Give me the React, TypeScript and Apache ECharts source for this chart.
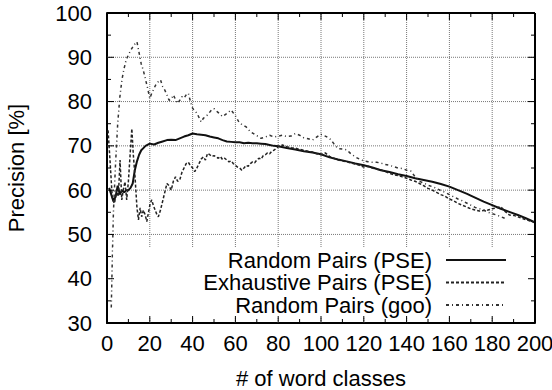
import React, { useEffect, useRef } from "react";
import * as echarts from "echarts";

// x positions (number of word classes) and precision values (%) per series
const pseRandomX = [1, 2, 3, 4, 5, 6, 7, 8, 9, 10, 11, 12, 13, 14, 15, 16, 17, 18, 20, 22, 24, 26, 28, 30, 32, 34, 36, 38, 40, 42, 44, 46, 48, 50, 52, 54, 56, 58, 60, 62, 64, 66, 68, 70, 72, 74, 76, 78, 80, 84, 88, 92, 96, 100, 104, 108, 112, 116, 120, 124, 128, 132, 136, 140, 144, 148, 152, 156, 160, 164, 168, 172, 176, 180, 184, 188, 192, 196, 200];
const pseRandomY = [60.5, 59, 57.5, 58.5, 61, 59, 60, 59.5, 60, 60, 60.5, 61.5, 64.5, 66.5, 68, 69, 69.5, 70, 70.5, 70.3, 70.7, 71, 71.3, 71.4, 71.3, 71.7, 72.1, 72.4, 72.8, 72.6, 72.5, 72.4, 72.1, 71.9, 71.7, 71.3, 71, 70.9, 70.8, 70.8, 70.6, 70.7, 70.6, 70.6, 70.5, 70.4, 70.2, 70, 69.9, 69.5, 69.2, 68.8, 68.5, 68.1, 67.4, 66.9, 66.5, 66, 65.6, 65.1, 64.5, 64.1, 63.6, 63.2, 62.7, 62.3, 61.9, 61.4, 60.8, 60, 59.2, 58.3, 57.4, 56.6, 55.8, 55.1, 54.4, 53.6, 52.7];

const exhaustiveX = [0.5, 1.5, 2.5, 3.5, 4.5, 5.3, 6.1, 6.9, 7.6, 8.4, 9.2, 10, 10.8, 11.6, 12.3, 13.1, 14, 14.7, 15.5, 16.2, 17, 17.8, 18.6, 19.4, 20.2, 20.9, 21.7, 22.5, 23.3, 24, 25, 26, 27, 28, 29, 30, 31, 32, 33, 34, 35, 36, 37, 38, 39, 40, 41, 42, 43, 44, 45, 46, 47, 48, 49, 50, 51, 52, 53, 54, 55, 56, 57, 58, 59, 60, 61, 62, 63, 64, 65, 66, 67, 68, 69, 70, 71, 72, 73, 74, 75, 76, 77, 78, 79, 80, 82, 84, 86, 88, 90, 92, 94, 96, 98, 100, 102, 104, 106, 108, 110, 112, 114, 116, 118, 120, 122, 124, 126, 128, 130, 132, 134, 136, 138, 140, 142, 144, 146, 148, 150, 152, 154, 156, 158, 160, 162, 164, 166, 168, 170, 172, 174, 176, 178, 180, 182, 184, 186, 188, 190, 192, 194, 196, 198, 200];
const exhaustiveY = [73.5, 66, 58, 57, 60, 58.5, 66.8, 57.8, 60, 61.9, 57.8, 62, 68, 73.9, 68, 63, 56, 53.3, 56, 54, 55.5, 54.5, 52.9, 55, 57, 57.8, 56.5, 55.5, 54.5, 54, 55.5, 57.5, 59.5, 61.5, 61, 60, 62, 63, 62, 62.3, 64, 65, 66, 66.3, 65.5, 65, 64.2, 65, 66, 67, 67.5, 66.8, 68.3, 68, 67.6, 67.8, 67.5, 67.2, 67.6, 66.9, 67.2, 66.8, 66.4, 66.6, 66, 65.6, 65.2, 65, 64.5, 65, 65.6, 65.4, 66, 66.4, 66.2, 66.8, 67.2, 67, 67.8, 68, 68.4, 68.2, 68.8, 69, 69.4, 69.8, 70.2, 69.8, 69.6, 69.5, 69.2, 69, 68.8, 68.6, 68.2, 68, 68.4, 67.6, 67.2, 66.8, 66.6, 66.4, 66.1, 65.9, 65.6, 65.2, 65.4, 65, 64.7, 64.6, 64.2, 63.8, 63.5, 63.3, 63, 62.7, 62.3, 62, 61.5, 61, 60.4, 60, 59.5, 59, 58.6, 58, 57.6, 57, 56.6, 56.2, 55.8, 55.5, 55.3, 55.4, 55.5, 55.8, 56, 56.3, 55.2, 54.4, 54.3, 54, 53.6, 53.3, 53, 52.8];

const gooRandomX = [2, 2.5, 3, 4, 5, 6, 7, 8, 9, 10, 11, 12, 13, 14, 15, 16, 17, 18, 19, 20, 21, 22, 23, 24, 25, 26, 27, 28, 29, 30, 31, 32, 33, 34, 35, 36, 37, 38, 39, 40, 42, 44, 45, 47, 49, 50, 52, 54, 56, 58, 60, 61.5, 63, 65, 67, 69, 72, 74, 76, 78, 80, 82, 84, 86, 88, 90, 92, 94, 96, 98, 100, 102, 104, 106, 108, 110, 112, 114, 116, 118, 120, 122, 124, 126, 128, 130, 132, 134, 136, 138, 140, 142, 144, 146, 148, 150, 152, 154, 156, 158, 160, 162, 164, 166, 168, 170, 172, 174, 176, 178, 180, 182, 184, 186];
const gooRandomY = [33.5, 45, 55, 66, 75, 81, 85, 87.5, 89.5, 90.5, 91.5, 92.3, 93, 93.5, 91, 88.5, 87, 85, 83, 80.7, 82, 83, 84, 84.5, 84.9, 83.4, 82.6, 81.5, 80.3, 80.5, 81.5, 80.5, 79.6, 80.3, 81.1, 80.8, 81.5, 81.9, 80, 78.5, 77.4, 75.4, 76.2, 77, 78.2, 78.4, 77.5, 76.6, 77.3, 78.1, 76.8, 75.5, 74.8, 74.3, 73.2, 72.6, 71.7, 72, 72.4, 72, 72.2, 72.4, 72.1, 72.2, 72.8, 72.4, 71.8, 71.6, 71.3, 72, 72.6, 72.2, 71.7, 70.5, 69.4, 69.3, 69.1, 68.2, 67.5, 67, 66.6, 66.4, 66.3, 66.3, 66.1, 65.8, 65.6, 65.3, 65, 64.9, 64.5, 64.3, 63, 62, 61.6, 61.1, 60.8, 60.4, 59.9, 59.5, 59, 58.5, 58, 57.6, 57.1, 56.6, 56.1, 55.8, 55.5, 55, 54.7, 54.4, 54, 53.6];

const seriesNames = ["Random Pairs (PSE)", "Exhaustive Pairs (PSE)", "Random Pairs (goo)"];

// axis ranges and tick steps
const X_MIN = 0;
const X_MAX = 200;
const X_STEP = 20;
const Y_MIN = 30;
const Y_MAX = 100;
const Y_STEP = 10;

const FONT = "Liberation Sans";
const FS = 22;

// the canvas is a little larger than the visible frame so the last tick label can run past the edge
const CANVAS_W = 575;
const CANVAS_H = 400;
const GRID = { left: 107, right: 40, top: 13, bottom: 77 };
const PX_PER_X = (CANVAS_W - GRID.left - GRID.right) / (X_MAX - X_MIN);
const PX_PER_Y = (CANVAS_H - GRID.top - GRID.bottom) / (Y_MAX - Y_MIN);

const GAP: (string | number)[] = ["-", "-"];

const zip = (xs: number[], ys: number[]) => xs.map((x, i) => [x, ys[i]]);
const range = (a: number, b: number, s: number) => {
  const out: number[] = [];
  for (let v = a; v <= b + 1e-9; v += s) out.push(v);
  return out;
};

// joins separate two-point segments into one broken polyline
const segments = (segs: number[][][]) => {
  const out: (string | number)[][] = [];
  segs.forEach(([a, b]) => {
    out.push(a, b, GAP);
  });
  return out;
};

// dotted grid at the inner major ticks
const gridSegments = () =>
  segments([
    ...range(X_MIN + X_STEP, X_MAX - X_STEP, X_STEP).map((x) => [[x, Y_MIN], [x, Y_MAX]]),
    ...range(Y_MIN + Y_STEP, Y_MAX - Y_STEP, Y_STEP).map((y) => [[X_MIN, y], [X_MAX, y]]),
  ]);

// inward ticks on all four sides
const tickSegments = () => {
  const major = 7;
  const minor = 4;
  const segs: number[][][] = [];
  const xTick = (x: number, len: number) => {
    const dy = len / PX_PER_Y;
    segs.push([[x, Y_MIN], [x, Y_MIN + dy]]);
    segs.push([[x, Y_MAX], [x, Y_MAX - dy]]);
  };
  const yTick = (y: number, len: number) => {
    const dx = len / PX_PER_X;
    segs.push([[X_MIN, y], [X_MIN + dx, y]]);
    segs.push([[X_MAX, y], [X_MAX - dx, y]]);
  };
  range(X_MIN + X_STEP, X_MAX - X_STEP, X_STEP).forEach((x) => xTick(x, major));
  range(X_MIN + X_STEP / 2, X_MAX - X_STEP / 2, X_STEP).forEach((x) => xTick(x, minor));
  range(Y_MIN + Y_STEP, Y_MAX - Y_STEP, Y_STEP).forEach((y) => yTick(y, major));
  range(Y_MIN + Y_STEP / 2, Y_MAX - Y_STEP / 2, Y_STEP).forEach((y) => yTick(y, minor));
  return segments(segs);
};

// top and right edges of the frame
const frameSegments = () =>
  segments([
    [[X_MIN, Y_MAX], [X_MAX, Y_MAX]],
    [[X_MAX, Y_MIN], [X_MAX, Y_MAX]],
  ]);

const text = () => ({ fontSize: FS, color: "#000", fontFamily: FONT });

const helper = (data: (string | number)[][], lineStyle: any, z: number) => ({
  type: "line",
  data,
  z,
  clip: false,
  silent: true,
  showSymbol: false,
  symbol: "none",
  connectNulls: false,
  legendHoverLink: false,
  emphasis: { disabled: true },
  lineStyle,
  itemStyle: { color: lineStyle.color },
});

export default function App() {
  const ref = useRef<HTMLDivElement>(null);

  useEffect(() => {
    document.body.style.margin = "0";
    if (!ref.current) return;
    const chart = echarts.init(ref.current, undefined, { renderer: "svg" });

    chart.setOption({
      animation: false,
      grid: { ...GRID, outerBoundsMode: "none", show: false },
      xAxis: {
        type: "value",
        min: X_MIN,
        max: X_MAX,
        interval: X_STEP,
        name: "# of word classes",
        nameLocation: "middle",
        nameGap: 44,
        nameTextStyle: text(),
        axisLine: { show: true, onZero: false, lineStyle: { color: "#000", width: 2 } },
        axisTick: { show: false },
        axisLabel: { ...text(), margin: 9 },
        splitLine: { show: false },
      },
      yAxis: {
        type: "value",
        min: Y_MIN,
        max: Y_MAX,
        interval: Y_STEP,
        name: "Precision [%]",
        nameLocation: "middle",
        nameGap: 80,
        nameTextStyle: text(),
        axisLine: { show: true, onZero: false, lineStyle: { color: "#000", width: 2 } },
        axisTick: { show: false },
        axisLabel: { ...text(), margin: 15 },
        splitLine: { show: false },
      },
      legend: {
        orient: "vertical",
        align: "right",
        right: 41,
        bottom: 82,
        backgroundColor: "#fff",
        padding: [2, 27, 2, 90],
        itemWidth: 60,
        itemHeight: 12,
        itemGap: 0.5,
        selectedMode: false,
        itemStyle: { opacity: 0 },
        textStyle: { fontSize: FS, color: "#000", fontFamily: FONT, lineHeight: 21, padding: [0, 9, 0, 0] },
        data: seriesNames,
      },
      series: [
        helper(gridSegments(), { color: "#777", width: 1, type: "dotted" }, 1),
        {
          name: seriesNames[0],
          type: "line",
          data: zip(pseRandomX, pseRandomY),
          showSymbol: false,
          symbol: "none",
          lineStyle: { color: "#111", width: 2, type: "solid" },
          itemStyle: { color: "#111" },
          z: 3,
        },
        {
          name: seriesNames[1],
          type: "line",
          data: zip(exhaustiveX, exhaustiveY),
          showSymbol: false,
          symbol: "none",
          lineStyle: { color: "#222", width: 1.5, type: [3, 2] },
          itemStyle: { color: "#222" },
        },
        {
          name: seriesNames[2],
          type: "line",
          data: zip(gooRandomX, gooRandomY),
          showSymbol: false,
          symbol: "none",
          lineStyle: { color: "#333", width: 1.5, type: [3, 3, 1, 3] },
          itemStyle: { color: "#333" },
        },
        helper(tickSegments(), { color: "#000", width: 1, type: "solid" }, 5),
        helper(frameSegments(), { color: "#000", width: 2, type: "solid" }, 5),
      ],
    });

    return () => chart.dispose();
  }, []);

  return (
    <div style={{ width: 552, height: 390, overflow: "hidden", position: "relative" }}>
      <div ref={ref} style={{ width: CANVAS_W, height: CANVAS_H }} />
    </div>
  );
}
